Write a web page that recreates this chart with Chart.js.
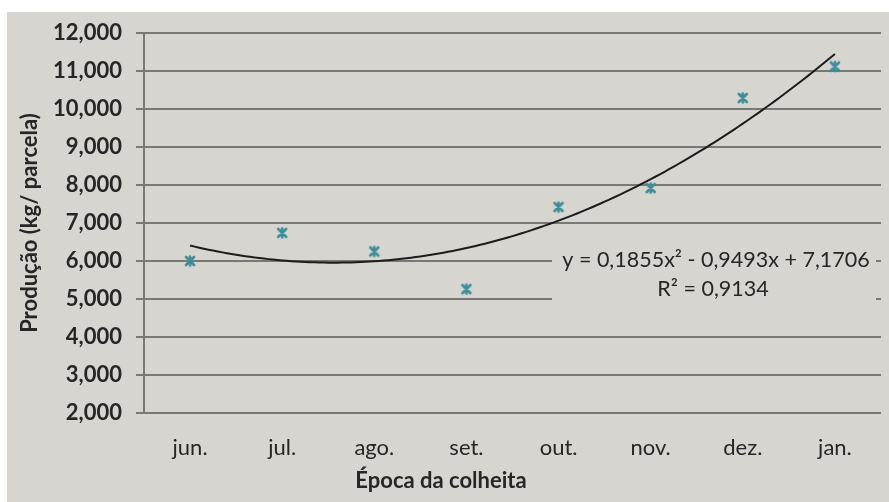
<!DOCTYPE html>
<html>
<head>
<meta charset="utf-8">
<script src="https://cdn.jsdelivr.net/npm/chart.js@4/dist/chart.umd.min.js"></script>
<style>
  html, body { margin: 0; padding: 0; background: #ffffff; }
  canvas { display: block; }
</style>
</head>
<body>
<canvas id="chart" width="889" height="502"></canvas>
<script>
// Harvest months and yield per plot (kg/parcela)
const meses = ['jun.', 'jul.', 'ago.', 'set.', 'out.', 'nov.', 'dez.', 'jan.'];
const producao = [6.0, 6.74, 6.25, 5.26, 7.42, 7.92, 10.29, 11.12];
// Polynomial trend (order 2): a, b, c  ->  y = a·x² + b·x + c
const tendencia = [0.1855, -0.9493, 7.1706];
const rQuadrado = 0.9134;
const yTicks = [2, 3, 4, 5, 6, 7, 8, 9, 10, 11, 12];

const FONT = 'Lato, "Open Sans", "Liberation Sans", sans-serif';
const BG = '#d6d5d0';
const GRID = '#787875';
const TEXT = '#262626';

const virgula = (v, d) => v.toFixed(d).replace('.', ',');

// Trend curve sampled along the months axis from the coefficients
const curva = [];
for (let i = 0; i <= 140; i++) {
  const x = 1 + i * 0.05;
  curva.push({ x, y: tendencia[0] * x * x + tendencia[1] * x + tendencia[2] });
}

// Excel-like star marker: an x with a vertical bar
function marcador() {
  const c = document.createElement('canvas');
  c.width = 14; c.height = 14;
  const g = c.getContext('2d');
  g.strokeStyle = '#3d8d9a';
  g.lineWidth = 2.6;
  g.lineCap = 'round';
  g.beginPath();
  g.moveTo(3, 3); g.lineTo(11, 11);
  g.moveTo(11, 3); g.lineTo(3, 11);
  g.moveTo(7, 2.5); g.lineTo(7, 11.5);
  g.stroke();
  return c;
}

const fundo = {
  id: 'fundo',
  beforeDraw(chart) {
    const { ctx, width, height } = chart;
    ctx.save();
    ctx.fillStyle = '#ffffff';
    ctx.fillRect(0, 0, width, height);
    ctx.fillStyle = BG;
    ctx.fillRect(7, 12, width - 7, height - 12);
    ctx.restore();
  }
};

const textos = {
  id: 'textos',
  afterDatasetsDraw(chart) {
    const { ctx, chartArea } = chart;
    const ys = chart.scales.y;
    ctx.save();
    // equation label box
    const bx = chartArea.right - 329, bw = 324;
    const by = ys.getPixelForValue(6) - 12, bh = 56;
    ctx.fillStyle = BG;
    ctx.fillRect(bx, by, bw, bh);
    ctx.fillStyle = TEXT;
    ctx.textAlign = 'center';
    ctx.textBaseline = 'middle';
    ctx.font = '21.5px ' + FONT;
    const [a, b, c] = tendencia;
    const eq = 'y = ' + virgula(a, 4) + 'x² ' + (b < 0 ? '- ' : '+ ') + virgula(Math.abs(b), 4) +
      'x ' + (c < 0 ? '- ' : '+ ') + virgula(Math.abs(c), 4);
    ctx.fillText(eq, bx + bw / 2 + 2, by + 11);
    ctx.fillText('R² = ' + virgula(rQuadrado, 4), bx + bw / 2 - 1, by + 40);
    // x axis title
    ctx.font = 'bold 22px ' + FONT;
    ctx.fillText('Época da colheita', 441, 481);
    ctx.restore();
  }
};

new Chart(document.getElementById('chart'), {
  type: 'scatter',
  data: {
    datasets: [
      {
        type: 'line',
        data: curva,
        borderColor: '#1c1c1c',
        borderWidth: 2,
        pointRadius: 0,
        tension: 0,
        order: 2
      },
      {
        data: meses.map((m, i) => ({ x: i + 1, y: producao[i] })),
        pointStyle: marcador(),
        pointRadius: 7,
        order: 1
      }
    ]
  },
  options: {
    responsive: false,
    animation: false,
    layout: { padding: { left: 0, top: 33, right: 7, bottom: 0 } },
    plugins: {
      legend: { display: false },
      tooltip: { enabled: false }
    },
    scales: {
      x: {
        type: 'linear',
        min: 0.5,
        max: 8.5,
        afterBuildTicks(scale) {
          scale.ticks = meses.map((m, i) => ({ value: i + 1 }));
        },
        afterFit(scale) { scale.height = 89; },
        grid: { display: false },
        border: { display: false },
        ticks: {
          callback: (v) => meses[Math.round(v) - 1],
          font: { family: FONT, size: 22 },
          color: TEXT,
          padding: 14,
          maxRotation: 0,
          autoSkip: false
        }
      },
      y: {
        min: 2,
        max: 12,
        afterBuildTicks(scale) {
          scale.ticks = yTicks.map((v) => ({ value: v }));
        },
        afterFit(scale) { scale.width = 144; },
        grid: { color: GRID, lineWidth: 2, tickLength: 8 },
        border: { color: GRID, width: 2 },
        ticks: {
          callback: (v) => virgula(v, 3),
          font: { family: FONT, size: 22, weight: 'bold' },
          color: TEXT,
          padding: 14
        },
        title: {
          display: true,
          text: 'Produção (kg/ parcela)',
          font: { family: FONT, size: 22, weight: 'bold' },
          color: TEXT,
          padding: { top: 17 }
        }
      }
    }
  },
  plugins: [fundo, textos]
});
</script>
</body>
</html>
